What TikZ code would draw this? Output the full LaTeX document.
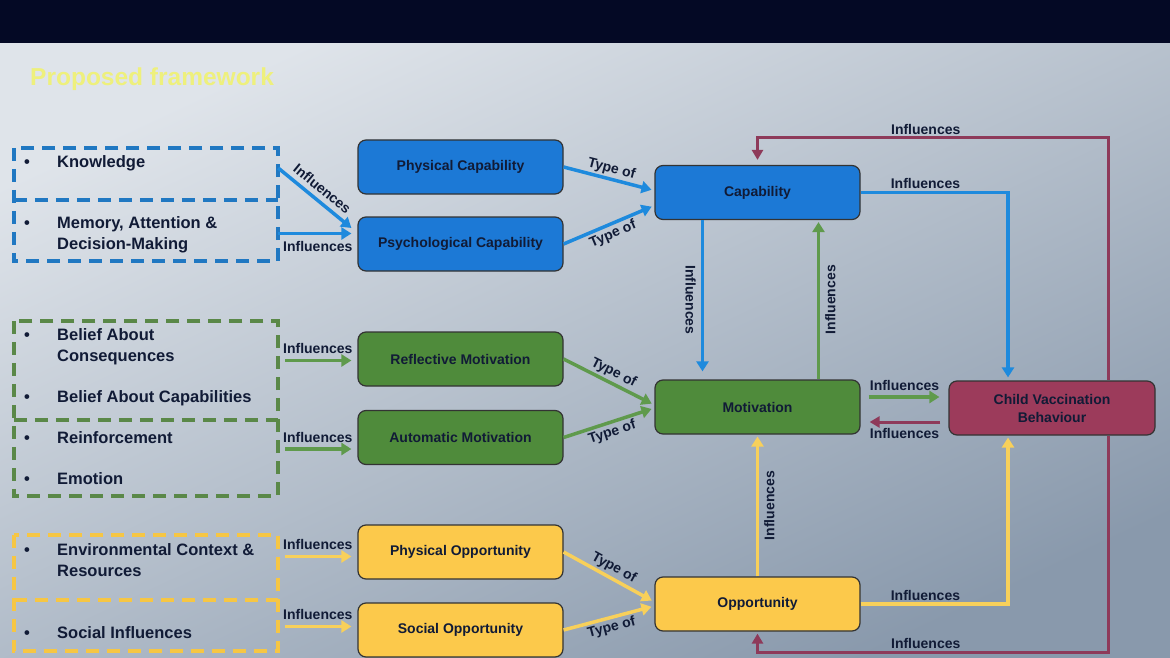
\documentclass[tikz,border=0pt]{standalone}
\usepackage{fontspec}
\setmainfont{Liberation Sans}
\usetikzlibrary{positioning,calc,arrows.meta}

\definecolor{topbar}{HTML}{040925}
\definecolor{bglight}{HTML}{DFE4EA}
\definecolor{bgdark}{HTML}{8999AC}
\definecolor{inktext}{HTML}{111B36}
\definecolor{capblue}{HTML}{1C79D6}
\definecolor{caparrow}{HTML}{1E8ADD}
\definecolor{capdash}{HTML}{2078C2}
\definecolor{motgreen}{HTML}{4F8B3B}
\definecolor{motarrow}{HTML}{5F9A4C}
\definecolor{motdash}{HTML}{5A8848}
\definecolor{oppyellow}{HTML}{FCC94B}
\definecolor{opparrow}{HTML}{F8D05A}
\definecolor{oppdash}{HTML}{F6C644}
\definecolor{behmaroon}{HTML}{9C3B5B}
\definecolor{beharrow}{HTML}{8E3A5A}
\definecolor{titleyellow}{HTML}{EEF07C}

\newcommand{\bitem}[1]{\begin{tabular}{@{}p{33pt}@{}l@{}}\textbullet & #1\end{tabular}}

\begin{document}
\begin{tikzpicture}[
    x=1pt, y=-1pt,
    box/.style={draw=black!80, line width=1.2pt, rounded corners=8pt, minimum height=54pt, minimum width=205pt, align=center, text=inktext, font=\bfseries\fontsize{14}{18}\selectfont},
    group/.style={minimum width=264pt, inner sep=0pt},
    dashline/.style={line width=3.5pt, dash pattern=on 13pt off 8pt},
    item/.style={anchor=west, inner sep=0pt, text=inktext, font=\bfseries\fontsize{16.5}{21}\selectfont},
    lbl/.style={text=inktext, font=\bfseries\fontsize{14}{16}\selectfont, inner sep=2pt},
    arr/.style={line width=3.5pt, -{Triangle[length=10pt, width=12pt]}},
    back/.style={line width=3pt, -{Triangle[length=10pt, width=11pt]}}
]
    \useasboundingbox (0,0) rectangle (1170,658);
    % --- Background ---
    \shade[top color=bglight, bottom color=bgdark, shading angle=25] (0,43) rectangle (1170,658);
    \fill[topbar] (0,0) rectangle (1170,43);
    \node[anchor=west, inner sep=0pt, text=titleyellow, font=\bfseries\fontsize{24.5}{28}\selectfont] (title) at (30,79) {Proposed framework};

    % --- Determinant groups ---
    \node[group, minimum height=52pt] (know) at (146,174) {};
    \node[group, minimum height=61pt] (mem) at (146,230.5) {};
    \node[group, minimum height=99pt] (belief) at (146,370.5) {};
    \node[group, minimum height=76pt] (reinf) at (146,458) {};
    \node[group, minimum height=65pt] (env) at (146,567.5) {};
    \node[group, minimum height=51pt] (social) at (146,625.5) {};
    \draw[dashline, capdash] (know.north west) rectangle (mem.south east);
    \draw[dashline, capdash] (mem.north west) -- (mem.north east);
    \draw[dashline, motdash] (belief.north west) rectangle (reinf.south east);
    \draw[dashline, motdash] (reinf.north west) -- (reinf.north east);
    \draw[dashline, oppdash] (env.north west) rectangle (social.south east);
    \draw[dashline, oppdash] (social.north west) -- (social.north east);

    \node[item] (t1) at (24,163) {\bitem{Knowledge}};
    \node[item] (t2) at (24,234.5) {\bitem{Memory, Attention \&\\ & Decision-Making}};
    \node[item] (t3) at (24,347) {\bitem{Belief About\\ & Consequences}};
    \node[item] (t4) at (24,398) {\bitem{Belief About Capabilities}};
    \node[item] (t5) at (24,439) {\bitem{Reinforcement}};
    \node[item] (t6) at (24,480) {\bitem{Emotion}};
    \node[item] (t7) at (24,562) {\bitem{Environmental Context \&\\ & Resources}};
    \node[item] (t8) at (24,634) {\bitem{Social Influences}};

    % --- Sub-components ---
    \node[box, fill=capblue] (phys) at (460.5,167) {Physical Capability};
    \node[box, fill=capblue] (psych) at (460.5,244) {Psychological Capability};
    \node[box, fill=motgreen] (refl) at (460.5,359) {Reflective Motivation};
    \node[box, fill=motgreen] (auto) at (460.5,437.5) {Automatic Motivation};
    \node[box, fill=oppyellow] (physopp) at (460.5,552) {Physical Opportunity};
    \node[box, fill=oppyellow] (socopp) at (460.5,630) {Social Opportunity};

    % --- COM-B components ---
    \node[box, fill=capblue] (cap) at (757.5,192.5) {Capability};
    \node[box, fill=motgreen] (mot) at (757.5,407) {Motivation};
    \node[box, fill=oppyellow] (opp) at (757.5,604) {Opportunity};
    \node[box, fill=behmaroon, minimum width=206pt] (child) at (1052,408) {Child Vaccination\\Behaviour};

    % --- Determinants -> sub-components ---
    \draw[arr, caparrow] ([yshift=6pt]know.east) -- ([xshift=-6pt, yshift=16pt]psych.west) node[midway, sloped, above=3pt, lbl] {Influences};
    \coordinate (m1) at ([yshift=-3pt]mem.east);
    \draw[arr, caparrow, shorten >=6pt] (m1) -- (m1 -| psych.west) node[midway, below=4pt, lbl] {Influences};
    \coordinate (g1) at ([yshift=10pt]belief.east);
    \draw[arr, motarrow, shorten <=7pt, shorten >=6pt] (g1) -- (g1 -| refl.west) node[midway, above=3pt, lbl] {Influences};
    \coordinate (g2) at ([yshift=9pt]reinf.east);
    \draw[arr, motarrow, shorten <=7pt, shorten >=6pt] (g2) -- (g2 -| auto.west) node[midway, above=3pt, lbl] {Influences};
    \coordinate (y1) at ([yshift=11pt]env.east);
    \draw[arr, opparrow, shorten <=7pt, shorten >=6pt] (y1) -- (y1 -| physopp.west) node[midway, above=3pt, lbl] {Influences};
    \coordinate (y2) at ([yshift=-1pt]social.east);
    \draw[arr, opparrow, shorten <=7pt, shorten >=6pt] (y2) -- (y2 -| socopp.west) node[midway, above=3pt, lbl] {Influences};

    % --- Type of ---
    \draw[arr, caparrow, shorten >=3pt] (phys.east) -- ([yshift=2pt]cap.west) node[midway, sloped, above, lbl] {Type of};
    \draw[arr, caparrow, shorten >=3pt] (psych.east) -- ([yshift=-13pt]cap.west) node[midway, sloped, below, lbl] {Type of};
    \draw[arr, motarrow, shorten >=3pt] (refl.east) -- ([yshift=2pt]mot.west) node[midway, sloped, above, lbl] {Type of};
    \draw[arr, motarrow, shorten >=3pt] (auto.east) -- ([yshift=-1pt]mot.west) node[midway, sloped, below, lbl] {Type of};
    \draw[arr, opparrow, shorten >=3pt] (physopp.east) -- ([yshift=2pt]opp.west) node[midway, sloped, above, lbl] {Type of};
    \draw[arr, opparrow, shorten >=3pt] (socopp.east) -- ([yshift=-2pt]opp.west) node[midway, sloped, below, lbl] {Type of};

    % --- Between components ---
    \draw[arr, caparrow, shorten >=8pt] ([xshift=-55pt]cap.south) -- ([xshift=-55pt]mot.north) node[midway, sloped, below=3pt, lbl] {Influences};
    \draw[arr, motarrow, shorten >=2pt] ([xshift=61pt]mot.north) -- ([xshift=61pt]cap.south) node[midway, sloped, below=3pt, lbl] {Influences};
    \draw[arr, opparrow, shorten >=2pt] (opp.north) -- (mot.south) node[midway, sloped, below=3pt, lbl] {Influences};

    % --- Towards behaviour ---
    \draw[arr, caparrow, shorten >=3pt] (cap.east) -| ([xshift=-44pt]child.north) node[pos=0.22, above, lbl] {Influences};
    \draw[arr, opparrow, shorten >=2pt] (opp.east) -| ([xshift=-44pt]child.south) node[pos=0.22, above, lbl] {Influences};
    \coordinate (mg) at ([yshift=10pt]mot.east);
    \draw[arr, motarrow, shorten <=8pt, shorten >=9pt] (mg) -- (mg -| child.west) node[midway, above=3pt, lbl] {Influences};
    \coordinate (bm) at ([yshift=-14pt]child.west);
    \draw[back, beharrow, shorten <=8pt, shorten >=9pt] (bm) -- (bm -| mot.east) node[midway, below=3pt, lbl] {Influences};

    % --- Feedback from behaviour ---
    \draw[back, beharrow, shorten >=5pt] ([xshift=56pt]child.north) |- node[pos=0.76, above, lbl] {Influences} ([yshift=27pt]cap.north) -- (cap.north);
    \draw[back, beharrow, shorten >=2pt] ([xshift=56pt]child.south) |- node[pos=0.76, above, lbl] {Influences} ([yshift=-21pt]opp.south) -- (opp.south);
\end{tikzpicture}
\end{document}
